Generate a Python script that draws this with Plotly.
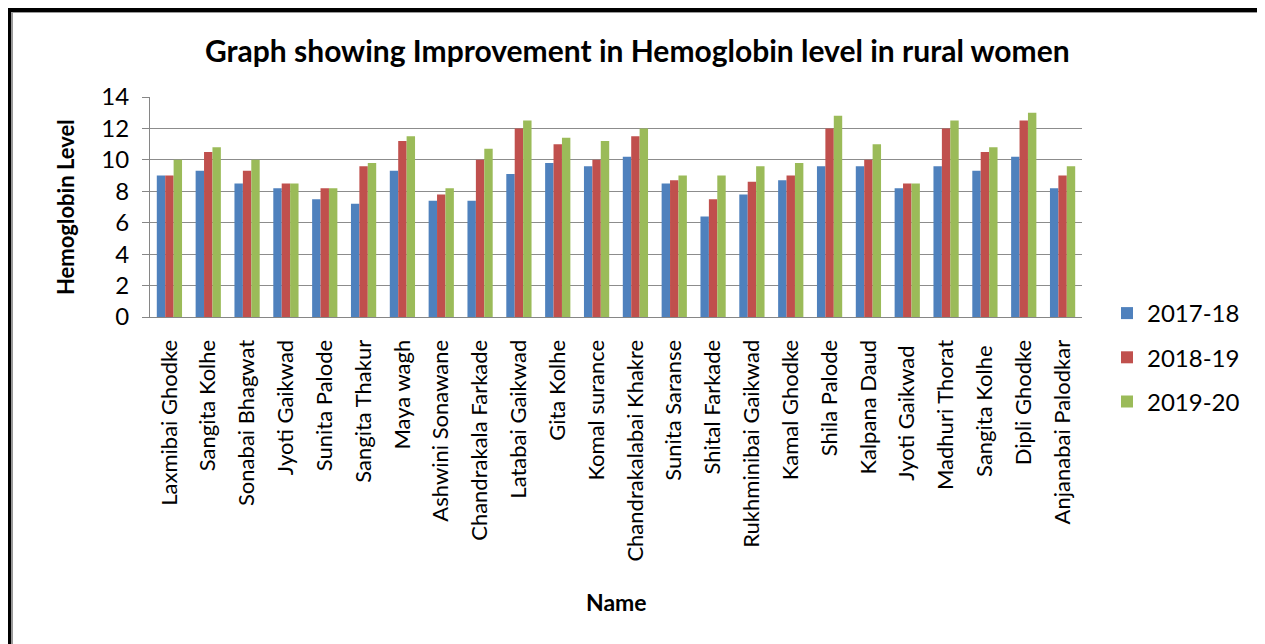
import plotly.graph_objects as go

names = ["Laxmibai Ghodke", "Sangita Kolhe", "Sonabai Bhagwat", "Jyoti Gaikwad",
         "Sunita Palode", "Sangita Thakur", "Maya wagh", "Ashwini Sonawane",
         "Chandrakala Farkade", "Latabai Gaikwad", "Gita Kolhe", "Komal surance",
         "Chandrakalabai Khakre", "Sunita Saranse", "Shital Farkade",
         "Rukhminibai Gaikwad", "Kamal Ghodke", "Shila Palode", "Kalpana Daud",
         "Jyoti Gaikwad ", "Madhuri Thorat", "Sangita Kolhe ", "Dipli Ghodke",
         "Anjanabai Palodkar"]
y2017 = [9.0, 9.3, 8.5, 8.2, 7.5, 7.2, 9.3, 7.4, 7.4, 9.1, 9.8, 9.6, 10.2, 8.5,
         6.4, 7.8, 8.7, 9.6, 9.6, 8.2, 9.6, 9.3, 10.2, 8.2]
y2018 = [9.0, 10.5, 9.3, 8.5, 8.2, 9.6, 11.2, 7.8, 10.0, 12.0, 11.0, 10.0, 11.5, 8.7,
         7.5, 8.6, 9.0, 12.0, 10.0, 8.5, 12.0, 10.5, 12.5, 9.0]
y2019 = [10.0, 10.8, 10.0, 8.5, 8.2, 9.8, 11.5, 8.2, 10.7, 12.5, 11.4, 11.2, 12.0, 9.0,
         9.0, 9.6, 9.8, 12.8, 11.0, 8.5, 12.5, 10.8, 13.0, 9.6]
series = [("2017-18", y2017, "#4F81BD"), ("2018-19", y2018, "#C0504D"), ("2019-20", y2019, "#9BBB59")]

OFF = 8  # page body offset
W, H = 1265, 644
# plot area in reference (screen) coordinates
L, R, T, B = 150, 1082, 97, 317
Lf, Rf, Tf, Bf = L - OFF, R - OFF, T - OFF, B - OFF

fig = go.Figure()
for nm, vals, col in series:
    fig.add_trace(go.Bar(x=names, y=vals, name=nm, legendgroup=nm,
                         marker=dict(color=col, line=dict(width=0))))

def px(x):
    return (x - L) / (R - L)
def py(y):
    return (B - y) / (B - T)

font = "Lato, Open Sans, sans-serif"
fig.update_layout(
    width=W, height=H,
    margin=dict(l=Lf, r=W - Rf, t=Tf, b=H - Bf, autoexpand=False),
    paper_bgcolor="white", plot_bgcolor="white",
    barmode="group", bargap=0.35, bargroupgap=0,
    font=dict(family=font, color="#000000"),
    showlegend=True,
    legend=dict(x=px(1107), y=py(291), xanchor="left", yanchor="top",
                font=dict(size=24, family=font), tracegroupgap=10, itemwidth=30,
                bgcolor="rgba(0,0,0,0)"),
    xaxis=dict(tickangle=-90, tickfont=dict(size=22, family=font),
               showline=True, linecolor="#868686", linewidth=1,
               ticks="", showgrid=False, automargin=False, ticklabelstandoff=13),
    yaxis=dict(range=[0, 14], dtick=2, tickfont=dict(size=24, family=font),
               showline=True, linecolor="#868686", linewidth=1,
               ticks="outside", ticklen=7, tickcolor="#868686",
               showgrid=True, gridcolor="#8c8c8c", gridwidth=1, zeroline=False,
               automargin=False, ticklabelstandoff=8),
    annotations=[
        dict(text="<b>Graph showing Improvement in Hemoglobin level in rural women</b>",
             xref="paper", yref="paper", x=px(637), y=py(50), showarrow=False,
             font=dict(size=30, family=font), xanchor="center", yanchor="middle"),
        dict(text="<b>Hemoglobin Level</b>", xref="paper", yref="paper",
             x=px(65), y=py(207), showarrow=False, textangle=-90,
             font=dict(size=22, family=font), xanchor="center", yanchor="middle"),
        dict(text="<b>Name</b>", xref="paper", yref="paper", x=px(616), y=py(602),
             showarrow=False, font=dict(size=23, family=font),
             xanchor="center", yanchor="middle"),
    ],
    shapes=[
        dict(type="rect", xref="paper", yref="paper", x0=px(12), x1=px(1261),
             y0=py(670), y1=py(12), line=dict(color="#9a9a9a", width=2), layer="below"),
        dict(type="rect", xref="paper", yref="paper", x0=px(9), x1=px(1264),
             y0=py(680), y1=py(10), line=dict(color="#000000", width=4), layer="below"),
    ],
)
fig.write_html("out.html")
